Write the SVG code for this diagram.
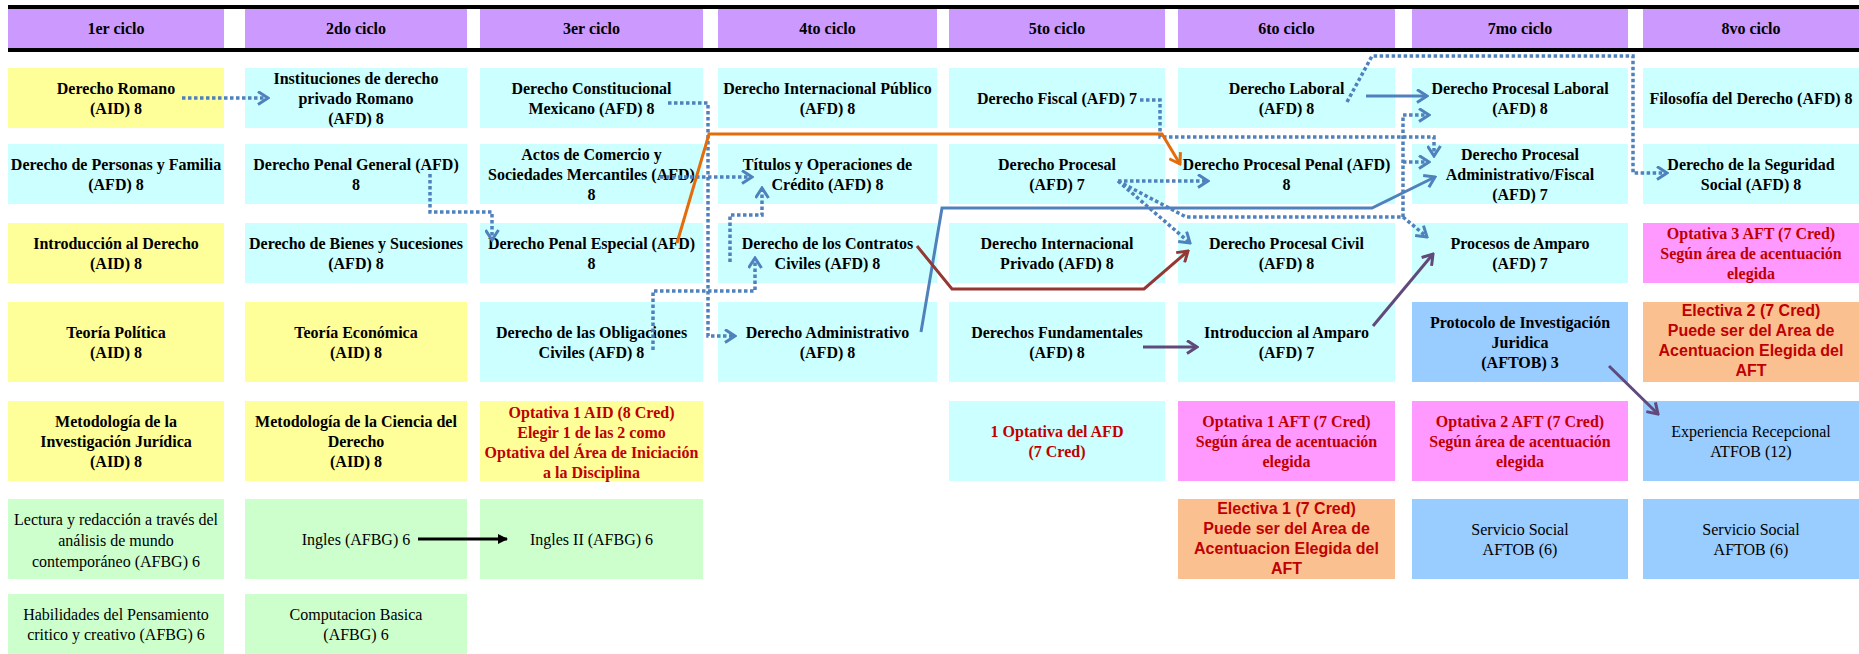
<svg xmlns="http://www.w3.org/2000/svg" width="1859" height="654" viewBox="0 0 1859 654">
<style>
.y{fill:#FFFF99}.c{fill:#CCFFFF}.p{fill:#FF99FF}.o{fill:#FAC090}.bl{fill:#99CCFF}.g{fill:#CCFFCC}.h{fill:#CC99FF}
text{font-family:"Liberation Serif","Times New Roman",serif;font-size:16px;text-anchor:middle;fill:#000}
.b{font-weight:bold}
.rb{font-weight:bold;fill:#C00000}
.ra{font-family:"Liberation Sans",Arial,sans-serif;font-weight:bold;fill:#C00000}
.dot{fill:none;stroke:#4F81BD;stroke-width:3.5;stroke-dasharray:3.5 2.5}
.ln{fill:none;stroke-width:3}
</style>
<defs>
<marker id="aB" viewBox="0 0 13 15" markerWidth="13" markerHeight="15" refX="11" refY="7.5" orient="auto" markerUnits="userSpaceOnUse"><path d="M1,1 L11,7.5 L1,14" fill="none" stroke="#4F81BD" stroke-width="3"/></marker>
<marker id="aO" viewBox="0 0 13 15" markerWidth="13" markerHeight="15" refX="11" refY="7.5" orient="auto" markerUnits="userSpaceOnUse"><path d="M1,1 L11,7.5 L1,14" fill="none" stroke="#E46C0A" stroke-width="3"/></marker>
<marker id="aR" viewBox="0 0 13 15" markerWidth="13" markerHeight="15" refX="11" refY="7.5" orient="auto" markerUnits="userSpaceOnUse"><path d="M1,1 L11,7.5 L1,14" fill="none" stroke="#953735" stroke-width="3"/></marker>
<marker id="aP" viewBox="0 0 13 15" markerWidth="13" markerHeight="15" refX="11" refY="7.5" orient="auto" markerUnits="userSpaceOnUse"><path d="M1,1 L11,7.5 L1,14" fill="none" stroke="#604A7B" stroke-width="3"/></marker>
<marker id="aK" viewBox="0 0 10 10" markerWidth="10" markerHeight="10" refX="9" refY="5" orient="auto" markerUnits="userSpaceOnUse"><path d="M0,0 L10,5 L0,10 Z" fill="#000"/></marker>
</defs>
<rect x="0" y="0" width="1859" height="654" fill="#FFFFFF"/>
<g id="header">
<rect x="8" y="5" width="1851" height="4" fill="#000"/>
<rect x="8" y="48" width="1851" height="4" fill="#000"/>
<rect class="h" x="8" y="9" width="216" height="39"/><text class="b" x="116" y="34">1er ciclo</text>
<rect class="h" x="245" y="9" width="222" height="39"/><text class="b" x="356" y="34">2do ciclo</text>
<rect class="h" x="480" y="9" width="223" height="39"/><text class="b" x="591.5" y="34">3er ciclo</text>
<rect class="h" x="718" y="9" width="219" height="39"/><text class="b" x="827.5" y="34">4to ciclo</text>
<rect class="h" x="949" y="9" width="216" height="39"/><text class="b" x="1057" y="34">5to ciclo</text>
<rect class="h" x="1178" y="9" width="217" height="39"/><text class="b" x="1286.5" y="34">6to ciclo</text>
<rect class="h" x="1412" y="9" width="216" height="39"/><text class="b" x="1520" y="34">7mo ciclo</text>
<rect class="h" x="1643" y="9" width="216" height="39"/><text class="b" x="1751" y="34">8vo ciclo</text>
</g>
<!-- Row 1 -->
<g id="derecho-romano"><rect class="y" x="8" y="68" width="216" height="60"/><text class="b"><tspan x="116" y="94">Derecho Romano</tspan><tspan x="116" y="114">(AID) 8</tspan></text></g>
<g id="instituciones"><rect class="c" x="245" y="68" width="222" height="60"/><text class="b"><tspan x="356" y="84">Instituciones de derecho</tspan><tspan x="356" y="104">privado Romano</tspan><tspan x="356" y="124">(AFD) 8</tspan></text></g>
<g id="constitucional"><rect class="c" x="480" y="68" width="223" height="60"/><text class="b"><tspan x="591.5" y="94">Derecho Constitucional</tspan><tspan x="591.5" y="114">Mexicano (AFD) 8</tspan></text></g>
<g id="int-publico"><rect class="c" x="718" y="68" width="219" height="60"/><text class="b"><tspan x="827.5" y="94">Derecho Internacional Público</tspan><tspan x="827.5" y="114">(AFD) 8</tspan></text></g>
<g id="fiscal"><rect class="c" x="949" y="68" width="216" height="60"/><text class="b" x="1057" y="104">Derecho Fiscal (AFD) 7</text></g>
<g id="laboral"><rect class="c" x="1178" y="68" width="217" height="60"/><text class="b"><tspan x="1286.5" y="94">Derecho Laboral</tspan><tspan x="1286.5" y="114">(AFD) 8</tspan></text></g>
<g id="proc-laboral"><rect class="c" x="1412" y="68" width="216" height="60"/><text class="b"><tspan x="1520" y="94">Derecho Procesal Laboral</tspan><tspan x="1520" y="114">(AFD) 8</tspan></text></g>
<g id="filosofia"><rect class="c" x="1643" y="68" width="216" height="60"/><text class="b" x="1751" y="104">Filosofía del Derecho (AFD) 8</text></g>
<!-- Row 2 -->
<g id="personas"><rect class="c" x="8" y="144" width="216" height="60"/><text class="b"><tspan x="116" y="170">Derecho de Personas y Familia</tspan><tspan x="116" y="190">(AFD) 8</tspan></text></g>
<g id="penal-general"><rect class="c" x="245" y="144" width="222" height="60"/><text class="b"><tspan x="356" y="170">Derecho Penal General (AFD)</tspan><tspan x="356" y="190">8</tspan></text></g>
<g id="comercio"><rect class="c" x="480" y="144" width="223" height="60"/><text class="b"><tspan x="591.5" y="160">Actos de Comercio y</tspan><tspan x="591.5" y="180">Sociedades Mercantiles (AFD)</tspan><tspan x="591.5" y="200">8</tspan></text></g>
<g id="titulos"><rect class="c" x="718" y="144" width="219" height="60"/><text class="b"><tspan x="827.5" y="170">Títulos y Operaciones de</tspan><tspan x="827.5" y="190">Crédito (AFD) 8</tspan></text></g>
<g id="procesal"><rect class="c" x="949" y="144" width="216" height="60"/><text class="b"><tspan x="1057" y="170">Derecho Procesal</tspan><tspan x="1057" y="190">(AFD) 7</tspan></text></g>
<g id="proc-penal"><rect class="c" x="1178" y="144" width="217" height="60"/><text class="b"><tspan x="1286.5" y="170">Derecho Procesal Penal (AFD)</tspan><tspan x="1286.5" y="190">8</tspan></text></g>
<g id="proc-admin"><rect class="c" x="1412" y="144" width="216" height="60"/><text class="b"><tspan x="1520" y="160">Derecho Procesal</tspan><tspan x="1520" y="180">Administrativo/Fiscal</tspan><tspan x="1520" y="200">(AFD) 7</tspan></text></g>
<g id="seguridad"><rect class="c" x="1643" y="144" width="216" height="60"/><text class="b"><tspan x="1751" y="170">Derecho de la Seguridad</tspan><tspan x="1751" y="190">Social (AFD) 8</tspan></text></g>
<!-- Row 3 -->
<g id="introduccion"><rect class="y" x="8" y="223" width="216" height="60"/><text class="b"><tspan x="116" y="249">Introducción al Derecho</tspan><tspan x="116" y="269">(AID) 8</tspan></text></g>
<g id="bienes"><rect class="c" x="245" y="223" width="222" height="60"/><text class="b"><tspan x="356" y="249">Derecho de Bienes y Sucesiones</tspan><tspan x="356" y="269">(AFD) 8</tspan></text></g>
<g id="penal-especial"><rect class="c" x="480" y="223" width="223" height="60"/><text class="b"><tspan x="591.5" y="249">Derecho Penal Especial (AFD)</tspan><tspan x="591.5" y="269">8</tspan></text></g>
<g id="contratos"><rect class="c" x="718" y="223" width="219" height="60"/><text class="b"><tspan x="827.5" y="249">Derecho de los Contratos</tspan><tspan x="827.5" y="269">Civiles (AFD) 8</tspan></text></g>
<g id="int-privado"><rect class="c" x="949" y="223" width="216" height="60"/><text class="b"><tspan x="1057" y="249">Derecho Internacional</tspan><tspan x="1057" y="269">Privado (AFD) 8</tspan></text></g>
<g id="proc-civil"><rect class="c" x="1178" y="223" width="217" height="60"/><text class="b"><tspan x="1286.5" y="249">Derecho Procesal Civil</tspan><tspan x="1286.5" y="269">(AFD) 8</tspan></text></g>
<g id="amparo"><rect class="c" x="1412" y="223" width="216" height="60"/><text class="b"><tspan x="1520" y="249">Procesos de Amparo</tspan><tspan x="1520" y="269">(AFD) 7</tspan></text></g>
<g id="optativa3"><rect class="p" x="1643" y="223" width="216" height="60"/><text class="rb"><tspan x="1751" y="239">Optativa 3 AFT (7 Cred)</tspan><tspan x="1751" y="259">Según área de acentuación</tspan><tspan x="1751" y="279">elegida</tspan></text></g>
<!-- Row 4 -->
<g id="teoria-politica"><rect class="y" x="8" y="302" width="216" height="80"/><text class="b"><tspan x="116" y="338">Teoría Política</tspan><tspan x="116" y="358">(AID) 8</tspan></text></g>
<g id="teoria-economica"><rect class="y" x="245" y="302" width="222" height="80"/><text class="b"><tspan x="356" y="338">Teoría Económica</tspan><tspan x="356" y="358">(AID) 8</tspan></text></g>
<g id="obligaciones"><rect class="c" x="480" y="302" width="223" height="80"/><text class="b"><tspan x="591.5" y="338">Derecho de las Obligaciones</tspan><tspan x="591.5" y="358">Civiles (AFD) 8</tspan></text></g>
<g id="administrativo"><rect class="c" x="718" y="302" width="219" height="80"/><text class="b"><tspan x="827.5" y="338">Derecho Administrativo</tspan><tspan x="827.5" y="358">(AFD) 8</tspan></text></g>
<g id="fundamentales"><rect class="c" x="949" y="302" width="216" height="80"/><text class="b"><tspan x="1057" y="338">Derechos Fundamentales</tspan><tspan x="1057" y="358">(AFD) 8</tspan></text></g>
<g id="intro-amparo"><rect class="c" x="1178" y="302" width="217" height="80"/><text class="b"><tspan x="1286.5" y="338">Introduccion al Amparo</tspan><tspan x="1286.5" y="358">(AFD) 7</tspan></text></g>
<g id="protocolo"><rect class="bl" x="1412" y="302" width="216" height="80"/><text class="b"><tspan x="1520" y="328">Protocolo de Investigación</tspan><tspan x="1520" y="348">Juridica</tspan><tspan x="1520" y="368">(AFTOB) 3</tspan></text></g>
<g id="electiva2"><rect class="o" x="1643" y="302" width="216" height="80"/><text class="ra"><tspan x="1751" y="316">Electiva 2 (7 Cred)</tspan><tspan x="1751" y="336">Puede ser del Area de</tspan><tspan x="1751" y="356">Acentuacion Elegida del</tspan><tspan x="1751" y="376">AFT</tspan></text></g>
<!-- Row 5 -->
<g id="metodologia-inv"><rect class="y" x="8" y="401" width="216" height="80"/><text class="b"><tspan x="116" y="427">Metodología de la</tspan><tspan x="116" y="447">Investigación Jurídica</tspan><tspan x="116" y="467">(AID) 8</tspan></text></g>
<g id="metodologia-ciencia"><rect class="y" x="245" y="401" width="222" height="80"/><text class="b"><tspan x="356" y="427">Metodología de la Ciencia del</tspan><tspan x="356" y="447">Derecho</tspan><tspan x="356" y="467">(AID) 8</tspan></text></g>
<g id="optativa1-aid"><rect class="y" x="480" y="401" width="223" height="80"/><text class="rb"><tspan x="591.5" y="418">Optativa 1 AID (8 Cred)</tspan><tspan x="591.5" y="438">Elegir 1 de las 2 como</tspan><tspan x="591.5" y="458">Optativa del Área de Iniciación</tspan><tspan x="591.5" y="478">a la Disciplina</tspan></text></g>
<g id="optativa-afd"><rect class="c" x="949" y="401" width="216" height="80"/><text class="rb"><tspan x="1057" y="437">1 Optativa del AFD</tspan><tspan x="1057" y="457">(7 Cred)</tspan></text></g>
<g id="optativa1-aft"><rect class="p" x="1178" y="401" width="217" height="80"/><text class="rb"><tspan x="1286.5" y="427">Optativa 1 AFT (7 Cred)</tspan><tspan x="1286.5" y="447">Según área de acentuación</tspan><tspan x="1286.5" y="467">elegida</tspan></text></g>
<g id="optativa2-aft"><rect class="p" x="1412" y="401" width="216" height="80"/><text class="rb"><tspan x="1520" y="427">Optativa 2 AFT (7 Cred)</tspan><tspan x="1520" y="447">Según área de acentuación</tspan><tspan x="1520" y="467">elegida</tspan></text></g>
<g id="experiencia"><rect class="bl" x="1643" y="401" width="216" height="80"/><text><tspan x="1751" y="437">Experiencia Recepcional</tspan><tspan x="1751" y="457">ATFOB (12)</tspan></text></g>
<!-- Row 6 -->
<g id="lectura"><rect class="g" x="8" y="499" width="216" height="80"/><text><tspan x="116" y="525">Lectura y redacción a través del</tspan><tspan x="116" y="546">análisis de mundo</tspan><tspan x="116" y="567">contemporáneo (AFBG) 6</tspan></text></g>
<g id="ingles"><rect class="g" x="245" y="499" width="222" height="80"/><text x="356" y="545">Ingles (AFBG) 6</text></g>
<g id="ingles2"><rect class="g" x="480" y="499" width="223" height="80"/><text x="591.5" y="545">Ingles II (AFBG) 6</text></g>
<g id="electiva1"><rect class="o" x="1178" y="499" width="217" height="80"/><text class="ra"><tspan x="1286.5" y="514">Electiva 1 (7 Cred)</tspan><tspan x="1286.5" y="534">Puede ser del Area de</tspan><tspan x="1286.5" y="554">Acentuacion Elegida del</tspan><tspan x="1286.5" y="574">AFT</tspan></text></g>
<g id="servicio1"><rect class="bl" x="1412" y="499" width="216" height="80"/><text><tspan x="1520" y="535">Servicio Social</tspan><tspan x="1520" y="555">AFTOB (6)</tspan></text></g>
<g id="servicio2"><rect class="bl" x="1643" y="499" width="216" height="80"/><text><tspan x="1751" y="535">Servicio Social</tspan><tspan x="1751" y="555">AFTOB (6)</tspan></text></g>
<!-- Row 7 -->
<g id="habilidades"><rect class="g" x="8" y="594" width="216" height="60"/><text><tspan x="116" y="620">Habilidades del Pensamiento</tspan><tspan x="116" y="640">critico y creativo (AFBG) 6</tspan></text></g>
<g id="computacion"><rect class="g" x="245" y="594" width="222" height="60"/><text><tspan x="356" y="620">Computacion Basica</tspan><tspan x="356" y="640">(AFBG) 6</tspan></text></g>
<g id="connectors">
<path class="dot" d="M182,98 H268" marker-end="url(#aB)"/>
<path class="dot" d="M430,174 V212 H492 V240" marker-end="url(#aB)"/>
<path class="dot" d="M668,103 H708 V336 H735" marker-end="url(#aB)"/>
<path class="dot" d="M660,177 H752" marker-end="url(#aB)"/>
<path class="dot" d="M653,350 V291 H755 V258" marker-end="url(#aB)"/>
<path class="dot" d="M730,262 V215 H762 V188" marker-end="url(#aB)"/>
<path class="dot" d="M1140,100 H1160 V137 H1434 V156" marker-end="url(#aB)"/>
<path class="dot" d="M1347,102 L1372,56 H1633 V173 H1667" marker-end="url(#aB)"/>
<path class="dot" d="M1118,181 H1208" marker-end="url(#aB)"/>
<path class="dot" d="M1118,181 L1190,243" marker-end="url(#aB)"/>
<path class="dot" d="M1118,181 L1186,217 H1403 V115 H1429" marker-end="url(#aB)"/>
<path class="dot" d="M1403,162 H1429" marker-end="url(#aB)"/>
<path class="dot" d="M1403,217 L1427,237" marker-end="url(#aB)"/>
<path class="ln" stroke="#E46C0A" d="M677,243 L709,134 H1162 L1180,164" marker-end="url(#aO)"/>
<path class="ln" stroke="#4F81BD" d="M921,332 L942,208 H1372 L1435,177" marker-end="url(#aB)"/>
<path class="ln" stroke="#4F81BD" d="M1366,96 H1427" marker-end="url(#aB)"/>
<path class="ln" stroke="#953735" d="M917,246 L952,289 H1144 L1188,251" marker-end="url(#aR)"/>
<path class="ln" stroke="#604A7B" d="M1143,347 H1197" marker-end="url(#aP)"/>
<path class="ln" stroke="#604A7B" d="M1373,326 L1433,254" marker-end="url(#aP)"/>
<path class="ln" stroke="#604A7B" d="M1609,366 L1658,414" marker-end="url(#aP)"/>
<path class="ln" stroke="#000" d="M418,539 H507" marker-end="url(#aK)"/>
</g>
</svg>
